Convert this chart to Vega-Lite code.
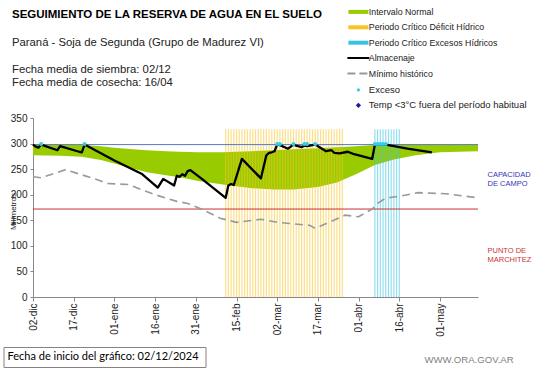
{
  "$schema": "https://vega.github.io/schema/vega-lite/v6.json",
  "width": 445,
  "height": 179,
  "autosize": "none",
  "padding": {"left": 33, "top": 118, "right": 63, "bottom": 71},
  "background": "white",
  "config": {"view": {"stroke": null}, "font": "Liberation Sans"},
  "title": {
    "text": "SEGUIMIENTO DE LA RESERVA DE AGUA  EN EL SUELO",
    "subtitle": ["Paraná - Soja de Segunda (Grupo de Madurez VI)", "\u200b", "Fecha media de siembra: 02/12", "Fecha media de cosecha: 16/04"],
    "anchor": "start",
    "frame": "group",
    "dx": -21,
    "offset": -81,
    "font": "Liberation Sans",
    "fontSize": 11.5,
    "fontWeight": "bold",
    "color": "#000000",
    "subtitleFont": "Liberation Sans",
    "subtitleFontSize": 11.3,
    "subtitleColor": "#222222",
    "subtitleLineHeight": 13.5,
    "subtitlePadding": 16
  },
  "datasets": {
    "banda": [
      {"fecha": "2024-12-02", "inferior": 277, "superior": 298},
      {"fecha": "2024-12-12", "inferior": 276, "superior": 298},
      {"fecha": "2024-12-20", "inferior": 274, "superior": 297},
      {"fecha": "2024-12-27", "inferior": 268, "superior": 295},
      {"fecha": "2025-01-01", "inferior": 261, "superior": 292},
      {"fecha": "2025-01-08", "inferior": 251, "superior": 289},
      {"fecha": "2025-01-13", "inferior": 244, "superior": 287},
      {"fecha": "2025-01-20", "inferior": 238, "superior": 285},
      {"fecha": "2025-01-25", "inferior": 234, "superior": 284},
      {"fecha": "2025-02-01", "inferior": 227, "superior": 283},
      {"fecha": "2025-02-10", "inferior": 220, "superior": 283},
      {"fecha": "2025-02-20", "inferior": 213, "superior": 285},
      {"fecha": "2025-03-01", "inferior": 210, "superior": 287},
      {"fecha": "2025-03-08", "inferior": 210, "superior": 289},
      {"fecha": "2025-03-17", "inferior": 215, "superior": 291},
      {"fecha": "2025-03-24", "inferior": 224, "superior": 293},
      {"fecha": "2025-03-31", "inferior": 240, "superior": 295},
      {"fecha": "2025-04-07", "inferior": 258, "superior": 297},
      {"fecha": "2025-04-14", "inferior": 269, "superior": 298},
      {"fecha": "2025-04-22", "inferior": 277, "superior": 298},
      {"fecha": "2025-05-01", "inferior": 283, "superior": 298},
      {"fecha": "2025-05-15", "inferior": 285, "superior": 298}
    ],
    "almacenaje": [
      {"fecha": "2024-12-02", "valor": 298},
      {"fecha": "2024-12-03", "valor": 294},
      {"fecha": "2024-12-04", "valor": 292},
      {"fecha": "2024-12-05", "valor": 298},
      {"fecha": "2024-12-11", "valor": 287},
      {"fecha": "2024-12-12", "valor": 295},
      {"fecha": "2024-12-19", "valor": 284},
      {"fecha": "2024-12-20", "valor": 283},
      {"fecha": "2024-12-21", "valor": 298},
      {"fecha": "2025-01-01", "valor": 267},
      {"fecha": "2025-01-11", "valor": 241},
      {"fecha": "2025-01-17", "valor": 214},
      {"fecha": "2025-01-19", "valor": 231},
      {"fecha": "2025-01-23", "valor": 218},
      {"fecha": "2025-01-24", "valor": 237},
      {"fecha": "2025-01-25", "valor": 235},
      {"fecha": "2025-01-26", "valor": 240},
      {"fecha": "2025-01-27", "valor": 237},
      {"fecha": "2025-01-28", "valor": 246},
      {"fecha": "2025-01-29", "valor": 248},
      {"fecha": "2025-02-02", "valor": 232},
      {"fecha": "2025-02-11", "valor": 194},
      {"fecha": "2025-02-12", "valor": 218},
      {"fecha": "2025-02-13", "valor": 221},
      {"fecha": "2025-02-14", "valor": 219},
      {"fecha": "2025-02-17", "valor": 270},
      {"fecha": "2025-02-24", "valor": 232},
      {"fecha": "2025-02-26", "valor": 277},
      {"fecha": "2025-02-27", "valor": 282},
      {"fecha": "2025-02-28", "valor": 283},
      {"fecha": "2025-03-01", "valor": 285},
      {"fecha": "2025-03-02", "valor": 298},
      {"fecha": "2025-03-03", "valor": 297},
      {"fecha": "2025-03-06", "valor": 290},
      {"fecha": "2025-03-08", "valor": 298},
      {"fecha": "2025-03-09", "valor": 296},
      {"fecha": "2025-03-11", "valor": 293},
      {"fecha": "2025-03-12", "valor": 296},
      {"fecha": "2025-03-13", "valor": 295},
      {"fecha": "2025-03-16", "valor": 298},
      {"fecha": "2025-03-20", "valor": 285},
      {"fecha": "2025-03-22", "valor": 287},
      {"fecha": "2025-03-23", "valor": 282},
      {"fecha": "2025-03-25", "valor": 281},
      {"fecha": "2025-03-28", "valor": 284},
      {"fecha": "2025-03-30", "valor": 280},
      {"fecha": "2025-04-06", "valor": 270},
      {"fecha": "2025-04-07", "valor": 298},
      {"fecha": "2025-04-11", "valor": 298},
      {"fecha": "2025-04-17", "valor": 292},
      {"fecha": "2025-04-19", "valor": 290},
      {"fecha": "2025-04-28", "valor": 283}
    ],
    "minimo": [
      {"fecha": "2024-12-02", "valor": 235},
      {"fecha": "2024-12-05", "valor": 233},
      {"fecha": "2024-12-14", "valor": 249},
      {"fecha": "2024-12-27", "valor": 227},
      {"fecha": "2024-12-29", "valor": 222},
      {"fecha": "2025-01-06", "valor": 220},
      {"fecha": "2025-01-16", "valor": 200},
      {"fecha": "2025-01-24", "valor": 187},
      {"fecha": "2025-01-28", "valor": 183},
      {"fecha": "2025-02-02", "valor": 172},
      {"fecha": "2025-02-09", "valor": 154},
      {"fecha": "2025-02-15", "valor": 146},
      {"fecha": "2025-02-24", "valor": 152},
      {"fecha": "2025-03-02", "valor": 146},
      {"fecha": "2025-03-14", "valor": 140},
      {"fecha": "2025-03-16", "valor": 134},
      {"fecha": "2025-03-27", "valor": 160},
      {"fecha": "2025-04-01", "valor": 157},
      {"fecha": "2025-04-06", "valor": 172},
      {"fecha": "2025-04-08", "valor": 183},
      {"fecha": "2025-04-10", "valor": 190},
      {"fecha": "2025-04-12", "valor": 194},
      {"fecha": "2025-04-17", "valor": 198},
      {"fecha": "2025-04-23", "valor": 204},
      {"fecha": "2025-05-03", "valor": 202},
      {"fecha": "2025-05-15", "valor": 194}
    ],
    "exceso": [
      {"fecha": "2024-12-05", "valor": 299},
      {"fecha": "2024-12-21", "valor": 299},
      {"fecha": "2025-03-02", "valor": 299},
      {"fecha": "2025-03-03", "valor": 299},
      {"fecha": "2025-03-08", "valor": 299},
      {"fecha": "2025-03-12", "valor": 299},
      {"fecha": "2025-03-13", "valor": 299},
      {"fecha": "2025-03-16", "valor": 299},
      {"fecha": "2025-04-07", "valor": 299},
      {"fecha": "2025-04-08", "valor": 299},
      {"fecha": "2025-04-09", "valor": 299},
      {"fecha": "2025-04-10", "valor": 299},
      {"fecha": "2025-04-11", "valor": 299}
    ],
    "periodos": [
      {"fecha": "2025-02-11", "serie": "Periodo Crítico Déficit Hídrico"},
      {"fecha": "2025-02-12", "serie": "Periodo Crítico Déficit Hídrico"},
      {"fecha": "2025-02-13", "serie": "Periodo Crítico Déficit Hídrico"},
      {"fecha": "2025-02-14", "serie": "Periodo Crítico Déficit Hídrico"},
      {"fecha": "2025-02-15", "serie": "Periodo Crítico Déficit Hídrico"},
      {"fecha": "2025-02-16", "serie": "Periodo Crítico Déficit Hídrico"},
      {"fecha": "2025-02-17", "serie": "Periodo Crítico Déficit Hídrico"},
      {"fecha": "2025-02-18", "serie": "Periodo Crítico Déficit Hídrico"},
      {"fecha": "2025-02-19", "serie": "Periodo Crítico Déficit Hídrico"},
      {"fecha": "2025-02-20", "serie": "Periodo Crítico Déficit Hídrico"},
      {"fecha": "2025-02-21", "serie": "Periodo Crítico Déficit Hídrico"},
      {"fecha": "2025-02-22", "serie": "Periodo Crítico Déficit Hídrico"},
      {"fecha": "2025-02-23", "serie": "Periodo Crítico Déficit Hídrico"},
      {"fecha": "2025-02-24", "serie": "Periodo Crítico Déficit Hídrico"},
      {"fecha": "2025-02-25", "serie": "Periodo Crítico Déficit Hídrico"},
      {"fecha": "2025-02-26", "serie": "Periodo Crítico Déficit Hídrico"},
      {"fecha": "2025-02-27", "serie": "Periodo Crítico Déficit Hídrico"},
      {"fecha": "2025-02-28", "serie": "Periodo Crítico Déficit Hídrico"},
      {"fecha": "2025-03-01", "serie": "Periodo Crítico Déficit Hídrico"},
      {"fecha": "2025-03-02", "serie": "Periodo Crítico Déficit Hídrico"},
      {"fecha": "2025-03-03", "serie": "Periodo Crítico Déficit Hídrico"},
      {"fecha": "2025-03-04", "serie": "Periodo Crítico Déficit Hídrico"},
      {"fecha": "2025-03-05", "serie": "Periodo Crítico Déficit Hídrico"},
      {"fecha": "2025-03-06", "serie": "Periodo Crítico Déficit Hídrico"},
      {"fecha": "2025-03-07", "serie": "Periodo Crítico Déficit Hídrico"},
      {"fecha": "2025-03-08", "serie": "Periodo Crítico Déficit Hídrico"},
      {"fecha": "2025-03-09", "serie": "Periodo Crítico Déficit Hídrico"},
      {"fecha": "2025-03-10", "serie": "Periodo Crítico Déficit Hídrico"},
      {"fecha": "2025-03-11", "serie": "Periodo Crítico Déficit Hídrico"},
      {"fecha": "2025-03-12", "serie": "Periodo Crítico Déficit Hídrico"},
      {"fecha": "2025-03-13", "serie": "Periodo Crítico Déficit Hídrico"},
      {"fecha": "2025-03-14", "serie": "Periodo Crítico Déficit Hídrico"},
      {"fecha": "2025-03-15", "serie": "Periodo Crítico Déficit Hídrico"},
      {"fecha": "2025-03-16", "serie": "Periodo Crítico Déficit Hídrico"},
      {"fecha": "2025-03-17", "serie": "Periodo Crítico Déficit Hídrico"},
      {"fecha": "2025-03-18", "serie": "Periodo Crítico Déficit Hídrico"},
      {"fecha": "2025-03-19", "serie": "Periodo Crítico Déficit Hídrico"},
      {"fecha": "2025-03-20", "serie": "Periodo Crítico Déficit Hídrico"},
      {"fecha": "2025-03-21", "serie": "Periodo Crítico Déficit Hídrico"},
      {"fecha": "2025-03-22", "serie": "Periodo Crítico Déficit Hídrico"},
      {"fecha": "2025-03-23", "serie": "Periodo Crítico Déficit Hídrico"},
      {"fecha": "2025-03-24", "serie": "Periodo Crítico Déficit Hídrico"},
      {"fecha": "2025-03-25", "serie": "Periodo Crítico Déficit Hídrico"},
      {"fecha": "2025-03-26", "serie": "Periodo Crítico Déficit Hídrico"},
      {"fecha": "2025-04-07", "serie": "Periodo Crítico Excesos Hídricos"},
      {"fecha": "2025-04-08", "serie": "Periodo Crítico Excesos Hídricos"},
      {"fecha": "2025-04-09", "serie": "Periodo Crítico Excesos Hídricos"},
      {"fecha": "2025-04-10", "serie": "Periodo Crítico Excesos Hídricos"},
      {"fecha": "2025-04-11", "serie": "Periodo Crítico Excesos Hídricos"},
      {"fecha": "2025-04-12", "serie": "Periodo Crítico Excesos Hídricos"},
      {"fecha": "2025-04-13", "serie": "Periodo Crítico Excesos Hídricos"},
      {"fecha": "2025-04-14", "serie": "Periodo Crítico Excesos Hídricos"},
      {"fecha": "2025-04-15", "serie": "Periodo Crítico Excesos Hídricos"},
      {"fecha": "2025-04-16", "serie": "Periodo Crítico Excesos Hídricos"}
    ],
    "umbrales": [
      {"umbral": "Capacidad de campo", "valor": 298},
      {"umbral": "Punto de marchitez", "valor": 172}
    ]
  },
  "resolve": {"axis": {"y": "independent"}},
  "layer": [
    {
      "data": {"name": "banda"},
      "mark": {"type": "area", "opacity": 1, "color": "#99CC00"},
      "encoding": {
        "x": {
          "field": "fecha", "type": "temporal",
          "scale": {"type": "utc", "domain": [{"year": 2024, "month": 12, "date": 2, "utc": true}, {"year": 2025, "month": 5, "date": 15, "utc": true}]},
          "axis": {
            "values": [
              {"year": 2024, "month": 12, "date": 2, "utc": true},
              {"year": 2024, "month": 12, "date": 17, "utc": true},
              {"year": 2025, "month": 1, "date": 1, "utc": true},
              {"year": 2025, "month": 1, "date": 16, "utc": true},
              {"year": 2025, "month": 1, "date": 31, "utc": true},
              {"year": 2025, "month": 2, "date": 15, "utc": true},
              {"year": 2025, "month": 3, "date": 2, "utc": true},
              {"year": 2025, "month": 3, "date": 17, "utc": true},
              {"year": 2025, "month": 4, "date": 1, "utc": true},
              {"year": 2025, "month": 4, "date": 16, "utc": true},
              {"year": 2025, "month": 5, "date": 1, "utc": true}
            ],
            "labelExpr": "utcFormat(datum.value, '%d') + '-' + ['ene','feb','mar','abr','may','jun','jul','ago','sep','oct','nov','dic'][utcmonth(datum.value)]",
            "labelAngle": -90,
            "labelFont": "Liberation Sans",
            "labelFontSize": 10,
            "labelColor": "#222222",
            "labelPadding": 2,
            "labelFlush": false,
            "labelOverlap": false,
            "tickSize": 4,
            "tickColor": "#888888",
            "domainColor": "#888888",
            "grid": false,
            "title": null
          }
        },
        "y": {
          "field": "inferior", "type": "quantitative",
          "scale": {"domain": [0, 350], "nice": false},
          "axis": {
            "values": [0, 50, 100, 150, 200, 250, 300, 350],
            "title": "Milímetros",
            "titleFont": "Liberation Sans",
            "titleFontSize": 8,
            "titleFontWeight": "normal",
            "titleColor": "#222222",
            "titleAngle": -90,
            "titleX": -16,
            "titleY": 93,
            "titleAlign": "center",
            "titleBaseline": "bottom",
            "labelFont": "Liberation Sans",
            "labelFontSize": 10,
            "labelColor": "#222222",
            "labelPadding": 3,
            "tickSize": 3,
            "tickColor": "#888888",
            "domainColor": "#888888",
            "grid": false
          }
        },
        "y2": {"field": "superior"}
      }
    },
    {
      "data": {"name": "periodos"},
      "mark": {"type": "rule", "strokeWidth": 1.2, "opacity": 0.55},
      "encoding": {
        "x": {"field": "fecha", "type": "temporal"},
        "y": {"datum": 0, "type": "quantitative", "axis": null},
        "y2": {"datum": 328},
        "color": {
          "field": "serie", "type": "nominal",
          "scale": {
            "domain": ["Intervalo Normal", "Periodo Crítico Déficit Hídrico", "Periodo Crítico Excesos Hídricos", "Almacenaje", "Mínimo histórico", "Exceso", "Temp <3°C fuera del período habitual"],
            "range": ["#99CC00", "#F7C325", "#38C2E2", "#000000", "#999999", "#33CCEE", "#1C1CA8"]
          },
          "legend": {
            "title": null,
            "orient": "none",
            "direction": "vertical",
            "legendX": 321,
            "legendY": -110.5,
            "padding": 0,
            "symbolSize": 100,
            "symbolStrokeWidth": 2,
            "labelFont": "Liberation Sans",
            "labelFontSize": 8.8,
            "labelColor": "#222222",
            "labelOffset": 6,
            "rowPadding": 5.4,
            "encoding": {
              "symbols": {
                "shape": {"value": {"expr": "datum.index < 3 ? 'M-1,-0.2H1V0.2H-1Z' : datum.index < 5 ? 'stroke' : datum.index == 5 ? 'circle' : 'diamond'"}},
                "size": {"value": {"expr": "datum.index < 3 ? 400 : datum.index < 5 ? 484 : datum.index == 5 ? 10 : 28"}},
                "fill": {"value": {"expr": "datum.index < 3 || datum.index > 4 ? scale('color', datum.value) : 'transparent'"}},
                "stroke": {"value": {"expr": "datum.index == 3 ? '#000000' : datum.index == 4 ? '#999999' : 'transparent'"}},
                "strokeWidth": {"value": {"expr": "datum.index == 3 || datum.index == 4 ? 2 : 0"}},
                "strokeDash": {"value": {"expr": "datum.index == 4 ? [8, 4] : [1, 0]"}},
                "opacity": {"value": 1},
                "fillOpacity": {"value": 1},
                "strokeOpacity": {"value": 1}
              },
              "labels": {
                "fontSize": {"value": {"expr": "datum.index > 4 ? 9.5 : 8.8"}}
              }
            }
          }
        }
      }
    },
    {
      "data": {"name": "umbrales"},
      "mark": {"type": "rule", "strokeWidth": 1},
      "encoding": {
        "y": {
          "field": "valor", "type": "quantitative",
          "axis": {
            "orient": "right",
            "values": [240, 91],
            "labelExpr": "datum.value > 200 ? ['CAPACIDAD', 'DE  CAMPO'] : ['PUNTO  DE', 'MARCHITEZ']",
            "labelColor": {"condition": {"test": "datum.value > 200", "value": "#3535B5"}, "value": "#CC3333"},
            "labelFont": "Liberation Sans",
            "labelFontSize": 7.5,
            "labelAlign": "left",
            "labelBaseline": "middle",
            "labelLineHeight": 9.3,
            "labelPadding": 9,
            "labelOverlap": false,
            "labelBound": false,
            "ticks": false,
            "domain": false,
            "grid": false,
            "title": "WWW.ORA.GOV.AR",
            "titleAngle": 0,
            "titleX": -54,
            "titleY": 244,
            "titleAlign": "left",
            "titleBaseline": "alphabetic",
            "titleFont": "Liberation Sans",
            "titleFontSize": 9.6,
            "titleFontWeight": "normal",
            "titleColor": "#7F7F7F"
          }
        },
        "stroke": {
          "field": "umbral", "type": "nominal",
          "scale": {"domain": ["Capacidad de campo", "Punto de marchitez"], "range": ["#5A78C0", "#C83232"]},
          "legend": null
        }
      }
    },
    {
      "data": {"name": "minimo"},
      "mark": {"type": "line", "strokeWidth": 1.6, "strokeDash": [8, 5], "color": "#999999"},
      "encoding": {
        "x": {"field": "fecha", "type": "temporal"},
        "y": {"field": "valor", "type": "quantitative", "axis": null}
      }
    },
    {
      "data": {"name": "almacenaje"},
      "mark": {"type": "line", "strokeWidth": 2.3, "strokeJoin": "round", "color": "#000000"},
      "encoding": {
        "x": {"field": "fecha", "type": "temporal"},
        "y": {"field": "valor", "type": "quantitative", "axis": null}
      }
    },
    {
      "data": {"name": "exceso"},
      "mark": {"type": "point", "filled": true, "size": 16, "opacity": 1, "color": "#33CCEE"},
      "encoding": {
        "x": {"field": "fecha", "type": "temporal"},
        "y": {"field": "valor", "type": "quantitative", "axis": null},
        "shape": {
          "datum": "circle",
          "scale": {"range": ["circle"]},
          "legend": {
            "title": "Fecha de inicio del gráfico:  02/12/2024    ",
            "orient": "none",
            "legendX": -29.5,
            "legendY": 229,
            "strokeColor": "#8C7F7F",
            "padding": 4,
            "titleFont": "Lato",
            "titleFontSize": 11,
            "titleFontWeight": "normal",
            "titleColor": "#000000",
            "titlePadding": 0,
            "titleLimit": 400,
            "symbolSize": 0,
            "symbolOpacity": 0,
            "labelExpr": "''",
            "labelFontSize": 1,
            "labelOpacity": 0,
            "rowPadding": 0
          }
        }
      }
    }
  ]
}
